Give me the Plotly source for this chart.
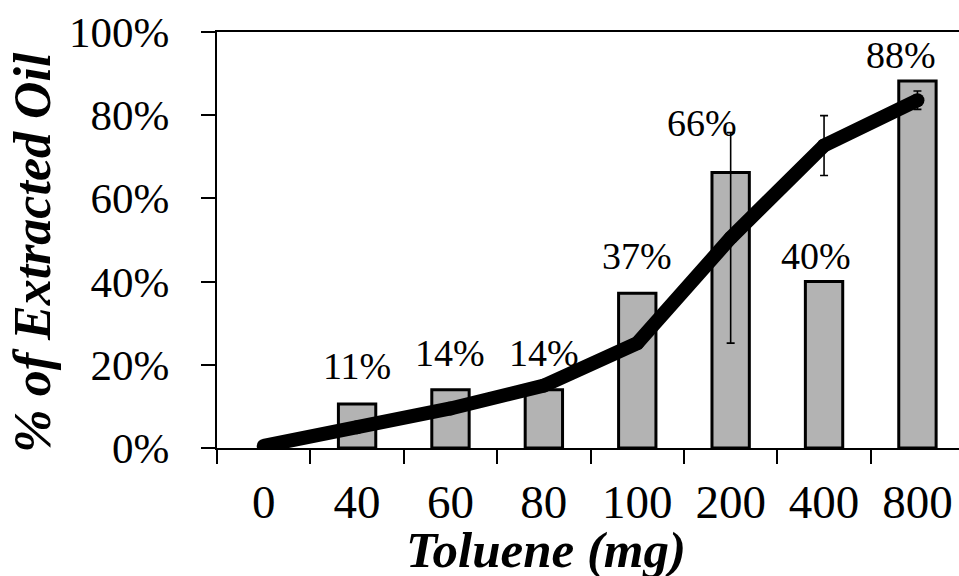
import plotly.graph_objects as go

# ---- data ----
categories = ["0", "40", "60", "80", "100", "200", "400", "800"]
bar_values = [None, 10.6, 14.0, 14.0, 37.2, 66.2, 40.0, 88.2]
bar_labels = [None, "11%", "14%", "14%", "37%", "66%", "40%", "88%"]
line_values = [0.5, 5.0, 9.5, 15.0, 25.2, 50.5, 72.7, 83.6]
line_errors = [None, None, None, None, None, 25.3, 7.2, 2.2]
y_ticks = [0, 20, 40, 60, 80, 100]
y_tick_text = ["0%", "20%", "40%", "60%", "80%", "100%"]

# ---- styling offsets for labels (pixels) ----
label_yshift = [0, 35, 34, 34, 34, 47, 23, 23]
label_xshift = [0, 0, 0, 0, 0, -29, -8, -16]

SERIF = "Liberation Serif, Times New Roman, serif"

fig = go.Figure()

fig.add_trace(go.Bar(
    x=categories, y=bar_values, width=0.40,
    marker=dict(color="#b3b3b3", line=dict(color="#000000", width=3)),
    showlegend=False, hoverinfo="skip",
))

err_x = [c for c, e in zip(categories, line_errors) if e is not None]
err_y = [v for v, e in zip(line_values, line_errors) if e is not None]
err_v = [e for e in line_errors if e is not None]
fig.add_trace(go.Scatter(
    x=err_x, y=err_y, mode="markers",
    marker=dict(size=1, color="rgba(0,0,0,0)"),
    error_y=dict(type="data", array=err_v, visible=True, color="#000000",
                 thickness=1.6, width=4),
    showlegend=False, hoverinfo="skip",
))

fig.add_trace(go.Scatter(
    x=categories, y=line_values, mode="lines+markers",
    line=dict(color="#000000", width=14),
    marker=dict(color="#000000", size=14),
    showlegend=False, hoverinfo="skip",
))

annotations = []
for i, (v, t, ys, xs) in enumerate(zip(bar_values, bar_labels, label_yshift, label_xshift)):
    if t is None:
        continue
    annotations.append(dict(
        x=i, y=v, xref="x", yref="y", text=t, showarrow=False,
        yanchor="middle", xanchor="center", yshift=ys + 3, xshift=xs,
        font=dict(family=SERIF, size=38, color="#000000"),
    ))

# axis titles
annotations.append(dict(
    x=0.443, y=-0.245, xref="paper", yref="paper",
    text="<b><i>Toluene (mg)</i></b>", showarrow=False,
    xanchor="center", yanchor="middle",
    font=dict(family=SERIF, size=51, color="#000000"),
))
annotations.append(dict(
    x=-0.248, y=0.472, xref="paper", yref="paper",
    text="<b><i>% of Extracted Oil</i></b>", showarrow=False, textangle=-90,
    xanchor="center", yanchor="middle",
    font=dict(family=SERIF, size=52, color="#000000"),
))

fig.update_layout(
    width=959, height=576,
    margin=dict(l=217, r=0, t=32, b=128),
    paper_bgcolor="white", plot_bgcolor="white",
    barmode="overlay",
    annotations=annotations,
    xaxis=dict(
        type="category", range=[-0.5, 7.445],
        tickson="boundaries", ticks="outside", ticklen=14, tickwidth=2,
        tickcolor="#000000",
        showline=True, linecolor="#000000", linewidth=2, mirror=True,
        showgrid=False, zeroline=False,
        tickfont=dict(family=SERIF, size=47, color="#000000"),
        ticklabelstandoff=12,
    ),
    yaxis=dict(
        range=[0, 100], tickvals=y_ticks, ticktext=y_tick_text,
        ticks="outside", ticklen=14, tickwidth=2, tickcolor="#000000",
        showline=True, linecolor="#000000", linewidth=2,
        showgrid=False, zeroline=False,
        tickfont=dict(family=SERIF, size=43, color="#000000"),
        ticklabelstandoff=23,
    ),
)

fig.write_html("out.html")
